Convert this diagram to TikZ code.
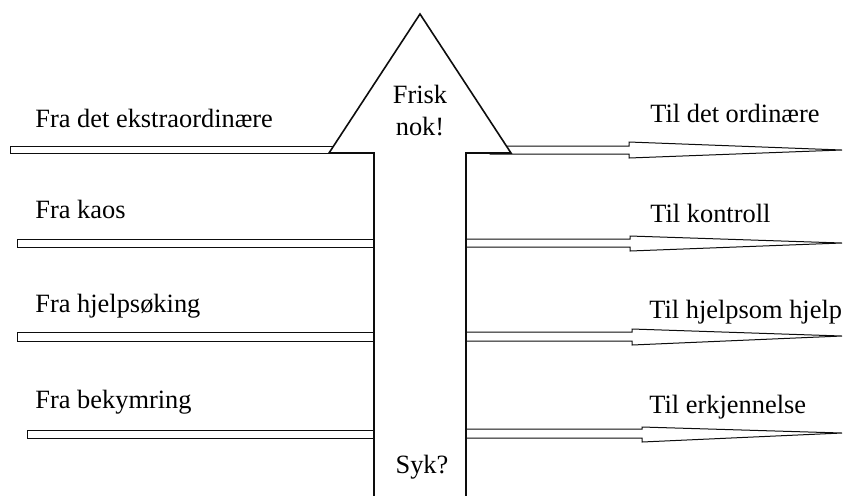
\documentclass[tikz,border=0pt]{standalone}
\usepackage{fontspec}
\setmainfont{Liberation Serif}
\usepackage{tikz}
\usetikzlibrary{positioning}
\definecolor{mainBlack}{gray}{0.05}

\begin{document}
\begin{tikzpicture}[x=0.5pt, y=-0.5pt,
    bar/.style={draw=mainBlack, line width=0.5pt, fill=white},
    bigarrow/.style={draw=mainBlack, line width=0.8pt, fill=white},
    label/.style={inner sep=0pt, anchor=base west, font=\fontsize{13.2}{15}\selectfont}]
    \useasboundingbox (0,0) rectangle (846,495);

    % Coordinates
    \coordinate (shaftL) at (374,153);
    \coordinate (shaftR) at (466,153);
    \coordinate (headL) at (329,153);
    \coordinate (headR) at (511,153);
    \coordinate (apex) at (420,14);

    % Left bars (from)
    \draw[bar] (10,146) rectangle (345,153);
    \draw[bar] (17,239) rectangle (380,247);
    \draw[bar] (17,332) rectangle (380,341);
    \draw[bar] (27,430) rectangle (380,438);

    % Right arrows (to)
    \draw[bar] (490,146) -- (629,146) -- (629,142) -- (842,150) -- (629,158) -- (629,154) -- (490,154) -- cycle;
    \draw[bar] (460,239) -- (630,239) -- (630,236) -- (842,243) -- (630,251) -- (630,247) -- (460,247) -- cycle;
    \draw[bar] (460,332) -- (632,332) -- (632,329) -- (842,336) -- (632,345) -- (632,341) -- (460,341) -- cycle;
    \draw[bar] (460,429) -- (642,429) -- (642,427) -- (842,433) -- (642,442) -- (642,438) -- (460,438) -- cycle;

    % Big upward arrow
    \draw[bigarrow] (shaftL |- 0,500) -- (shaftL) -- (headL) -- (apex) -- (headR) -- (shaftR) -- (shaftR |- 0,500);

    % Labels
    \node[label] (fraEkstra) at (35,127) {Fra det ekstraordinære};
    \node[label] (fraKaos) at (35,218) {Fra kaos};
    \node[label] (fraHjelp) at (35,312) {Fra hjelpsøking};
    \node[label] (fraBekym) at (35,408) {Fra bekymring};
    \node[label] (tilOrd) at (650,122) {Til det ordinære};
    \node[label] (tilKontroll) at (650,222) {Til kontroll};
    \node[label] (tilHjelp) at (649,318) {Til hjelpsom hjelp};
    \node[label] (tilErkj) at (649,413) {Til erkjennelse};
    \node[label, anchor=base, align=center] (frisk) at (420,135) {Frisk\\[1pt]nok!};
    \node[label, anchor=base] (syk) at (422,473) {Syk?};
\end{tikzpicture}
\end{document}
